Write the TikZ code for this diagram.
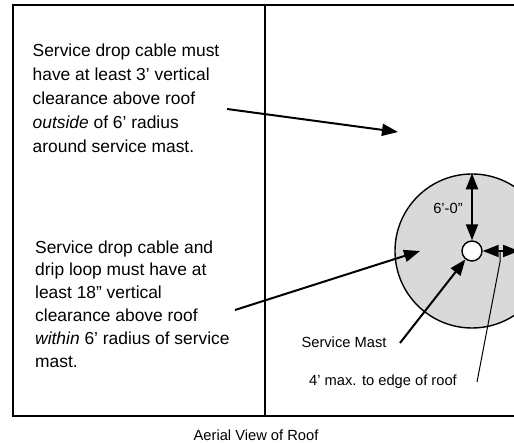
\documentclass[tikz,border=0pt]{standalone}
\usepackage{fontspec}
\setmainfont{Liberation Sans}
\usetikzlibrary{arrows.meta}
\definecolor{zonegrey}{RGB}{217,217,217}
\tikzset{
  callout/.style={line width=2pt, -{Triangle[length=16pt,width=12pt]}},
  dimline/.style={line width=2pt, {Triangle[length=16pt,width=12pt]}-{Triangle[length=16pt,width=12pt]}},
  note/.style={anchor=base west, align=left, inner sep=0pt, font=\fontsize{17.4}{24}\selectfont},
  small/.style={inner sep=0pt, font=\fontsize{14.7}{17}\selectfont},
  disc/.style={circle, draw, line width=1.4pt, inner sep=0pt}
}
\begin{document}
\begin{tikzpicture}[x=1pt, y=-1pt]
  \useasboundingbox (0,0) rectangle (514,443);
  \clip (0,0) rectangle (514,443);
  % roof seen from above
  \draw[line width=1.6pt] (13,5) rectangle (530,416);
  \draw[line width=1.2pt] (265,5) -- (265,416);
  % 6' zone round the mast
  \node[disc, fill=zonegrey, minimum size=154pt] (zone) at (472,251) {};
  \node[disc, fill=white, minimum size=20pt] (mast) at (472,251) {};
  % notes (anchored at the last line)
  \node[note] (outtext) at (32.5,153) {Service drop cable must\\have at least 3’ vertical\\clearance above roof\\\textit{outside} of 6’ radius\\around service mast.};
  \node[note, font=\fontsize{17.4}{23}\selectfont] (intext) at (35,368) {Service drop cable and\\drip loop must have at\\least 18” vertical\\clearance above roof\\\textit{within} 6’ radius of service\\mast.};
  \node[small] (smtext) at (344,342) {Service Mast};
  \node[small] (maxtext) at (383,382) {4’ max. to edge of roof};
  \node[small] (ftlabel) at (448,208) {6’-0”};
  \node[small] (caption) at (256,435) {Aerial View of Roof};
  % arrows
  \coordinate (outtail) at (227,109);
  \coordinate (outtip) at (398,132);
  \coordinate (intail) at (235,310);
  \coordinate (intip) at (420,251);
  \coordinate (smtail) at (400,343);
  \coordinate (roofedge) at (519,251);
  \coordinate (maxtail) at (477,382);
  \coordinate (maxtip) at (500,262);
  \draw[callout] (outtail) -- (outtip);
  \draw[callout] (intail) -- (intip);
  \draw[callout] (smtail) -- (mast);
  \draw[dimline] (zone.north) -- (mast.north);
  \draw[dimline] (mast.east) -- (roofedge);
  \draw[line width=1pt] (maxtail) -- (maxtip) -- ++(0,-11);
\end{tikzpicture}
\end{document}
